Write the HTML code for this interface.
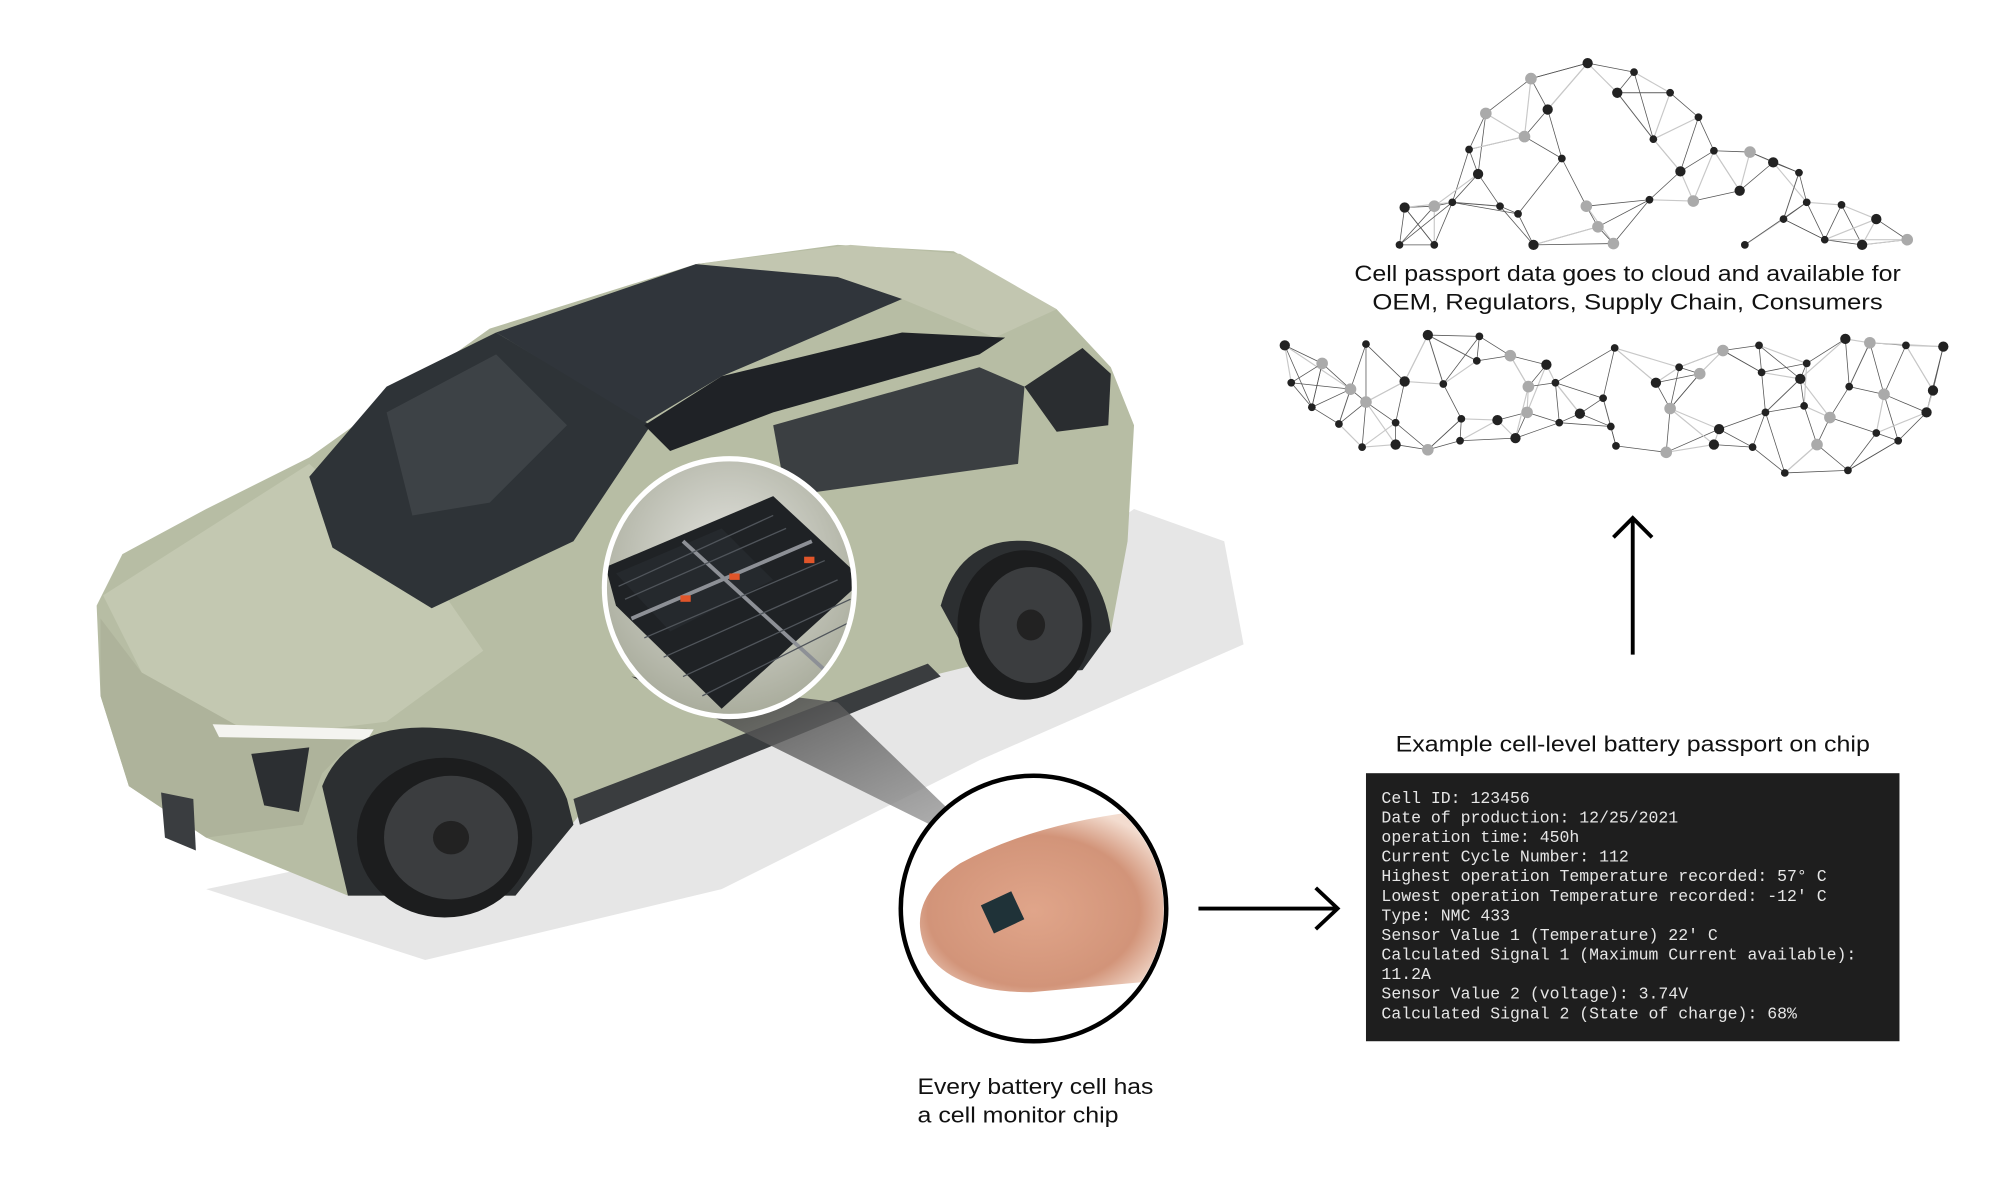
<!DOCTYPE html>
<html><head><meta charset="utf-8">
<style>
html,body{margin:0;padding:0;background:#fff;}
svg{display:block;}
</style></head>
<body>
<svg id="s" width="2000" height="1200" viewBox="0 0 1552 931.2" preserveAspectRatio="none" xmlns="http://www.w3.org/2000/svg">
<defs>
<linearGradient id="cone" x1="0" y1="0" x2="1" y2="1">
<stop offset="0" stop-color="#2a2a2a" stop-opacity="0.85"/>
<stop offset="1" stop-color="#9a9a9a" stop-opacity="0.8"/>
</linearGradient>
<radialGradient id="bat" cx="0.5" cy="0.4" r="0.6">
<stop offset="0" stop-color="#e4e4e0"/>
<stop offset="1" stop-color="#a9ac9c"/>
</radialGradient>
<radialGradient id="finger" cx="0.45" cy="0.55" r="0.6">
<stop offset="0" stop-color="#e0a58a"/>
<stop offset="0.7" stop-color="#d29479"/>
<stop offset="1" stop-color="#f3dccf"/>
</radialGradient>
<clipPath id="cc"><ellipse cx="566" cy="456" rx="95" ry="98"/></clipPath>
<clipPath id="fc"><ellipse cx="802" cy="705" rx="101" ry="101"/></clipPath>
</defs>
<rect width="1552" height="931.2" fill="#fff"/>

<!-- shadow -->
<polygon points="160,690 330,745 560,690 760,590 965,500 950,420 880,395 700,520 400,640" fill="#e6e6e6"/>

<!-- car body -->
<polygon points="75,470 95,430 160,395 240,355 380,255 540,205 650,190 740,195 820,240 862,285 880,330 875,420 862,490 720,525 450,632 400,695 270,695 160,650 100,610 78,540" fill="#b7bda4"/>
<!-- hood lighter -->
<polygon points="80,462 240,360 330,440 375,505 300,560 200,572 110,522" fill="#c3c8b1"/>
<!-- front face -->
<polygon points="78,480 110,522 200,572 285,565 250,600 235,640 160,650 100,610 78,540" fill="#aeb39b"/>
<polygon points="165,562 290,566 285,574 170,572" fill="#f4f4f0"/>
<polygon points="195,585 240,580 232,630 205,625" fill="#2c2f32"/>
<polygon points="125,615 150,620 152,660 128,650" fill="#3a3d40"/>
<!-- windshield -->
<polygon points="240,370 300,300 385,258 505,330 445,420 335,472 258,425" fill="#2e3337"/>
<polygon points="300,320 385,275 440,330 380,390 320,400" fill="#474c50" opacity="0.6"/>
<!-- roof -->
<polygon points="385,258 540,205 660,193 700,232 560,292 500,328" fill="#30353b"/>
<polygon points="540,205 660,190 745,197 820,240 772,262 700,232 650,215" fill="#c2c6b0"/>
<polygon points="500,330 560,292 700,258 780,262 760,275 600,320 520,350" fill="#1f2226"/>
<!-- side windows -->
<polygon points="600,330 760,285 795,300 790,360 610,385" fill="#3b3f42"/>
<polygon points="795,300 840,270 862,290 860,330 820,335" fill="#2a2d30"/>
<!-- lower cladding -->
<path d="M250,610 Q270,560 340,565 Q420,570 440,620 L445,640 L400,695 L270,695 Z" fill="#2c2f31"/>
<path d="M730,470 Q745,415 800,420 Q855,430 862,490 L840,520 L760,525 Z" fill="#2c2f31"/>
<polygon points="445,620 720,515 730,525 450,640" fill="#3a3d3f"/>
<!-- wheels -->
<ellipse cx="345" cy="650" rx="68" ry="62" fill="#1c1d1e"/>
<ellipse cx="350" cy="650" rx="52" ry="48" fill="#3b3d3f"/>
<ellipse cx="350" cy="650" rx="14" ry="13" fill="#222"/>
<ellipse cx="795" cy="485" rx="52" ry="58" fill="#1c1d1e"/>
<ellipse cx="800" cy="485" rx="40" ry="45" fill="#3b3d3f"/>
<ellipse cx="800" cy="485" rx="11" ry="12" fill="#222"/>

<!-- cone -->
<polygon points="490,525 650,545 736,628 722,640" fill="url(#cone)"/>

<!-- battery circle -->
<ellipse cx="566" cy="456" rx="97" ry="100" fill="url(#bat)"/>
<g clip-path="url(#cc)">
<polygon points="470,440 600,385 670,450 560,550 478,470" fill="#1f2225"/>
<polygon points="478,445 560,410 600,450 520,490" fill="#25292d"/>
<line x1="530" y1="420" x2="640" y2="520" stroke="#8d9096" stroke-width="3"/>
<line x1="490" y1="480" x2="630" y2="420" stroke="#8d9096" stroke-width="3"/>
<g stroke="#50555b" stroke-width="1">
<line x1="480" y1="455" x2="600" y2="400"/><line x1="485" y1="465" x2="610" y2="410"/>
<line x1="500" y1="495" x2="640" y2="435"/><line x1="515" y1="510" x2="650" y2="450"/>
<line x1="530" y1="525" x2="660" y2="465"/><line x1="545" y1="540" x2="665" y2="480"/>
</g>
<rect x="528" y="462" width="8" height="5" fill="#e0552a"/>
<rect x="566" y="445" width="8" height="5" fill="#e0552a"/>
<rect x="624" y="432" width="8" height="5" fill="#e0552a"/>
</g>
<ellipse cx="566" cy="456" rx="97" ry="100" fill="none" stroke="#fff" stroke-width="4"/>

<!-- chip circle -->
<g clip-path="url(#fc)">
<rect x="700" y="600" width="210" height="210" fill="#fff"/>
<path d="M720,740 Q700,700 745,670 Q800,640 880,630 L910,640 L910,760 L800,770 Q740,770 720,740 Z" fill="url(#finger)"/>
<g transform="rotate(-25 778 708)"><rect x="765" y="696" width="26" height="24" fill="#1f3238"/></g>
</g>
<ellipse cx="802" cy="705" rx="103" ry="103" fill="none" stroke="#000" stroke-width="3.5"/>

<!-- arrows -->
<line x1="930" y1="705" x2="1036" y2="705" stroke="#000" stroke-width="3"/>
<polyline points="1021,689 1038,705 1021,721" fill="none" stroke="#000" stroke-width="3"/>
<line x1="1267" y1="508" x2="1267" y2="403" stroke="#000" stroke-width="3"/>
<polyline points="1252,417 1267,402 1282,417" fill="none" stroke="#000" stroke-width="3"/>

<!-- network -->
<g id="net"></g>

<!-- texts -->
<g font-family="Liberation Sans, sans-serif" fill="#111" font-size="17">
<text x="1263" y="218" text-anchor="middle" textLength="424" lengthAdjust="spacingAndGlyphs">Cell passport data goes to cloud and available for</text>
<text x="1263" y="240" text-anchor="middle" textLength="396" lengthAdjust="spacingAndGlyphs">OEM, Regulators, Supply Chain, Consumers</text>
<text x="1267" y="583" text-anchor="middle" textLength="368" lengthAdjust="spacingAndGlyphs">Example cell-level battery passport on chip</text>
<text x="712" y="849" textLength="183" lengthAdjust="spacingAndGlyphs">Every battery cell has</text>
<text x="712" y="871" textLength="156" lengthAdjust="spacingAndGlyphs">a cell monitor chip</text>
</g>

<rect x="1060" y="600" width="414" height="208" fill="#1e1e1e"/>
<g font-family="Liberation Mono, monospace" fill="#e6e6e6" font-size="12.8">
<text x="1072" y="623">Cell ID: 123456</text>
<text x="1072" y="638.2">Date of production: 12/25/2021</text>
<text x="1072" y="653.4">operation time: 450h</text>
<text x="1072" y="668.6">Current Cycle Number: 112</text>
<text x="1072" y="683.8">Highest operation Temperature recorded: 57° C</text>
<text x="1072" y="699">Lowest operation Temperature recorded: -12' C</text>
<text x="1072" y="714.2">Type: NMC 433</text>
<text x="1072" y="729.4">Sensor Value 1 (Temperature) 22' C</text>
<text x="1072" y="744.6">Calculated Signal 1 (Maximum Current available):</text>
<text x="1072" y="759.8">11.2A</text>
<text x="1072" y="775">Sensor Value 2 (voltage): 3.74V</text>
<text x="1072" y="790.2">Calculated Signal 2 (State of charge): 68%</text>
</g>
</svg>
<script>
(function(){
var NS="http://www.w3.org/2000/svg",g=document.getElementById("net");
var top=[[1232,49],[1188,61],[1268,56],[1255,72],[1296,72],[1153,88],[1201,85],[1318,91],[1140,116],[1183,106],[1283,108],[1330,117],[1376,126],[1358,118],[1212,123],[1147,135],[1164,160],[1231,160],[1304,133],[1396,134],[1280,155],[1314,156],[1402,157],[1429,159],[1456,170],[1113,160],[1127,157],[1090,161],[1178,166],[1240,176],[1350,148],[1384,170],[1416,186],[1480,186],[1086,190],[1113,190],[1190,190],[1252,189],[1354,190],[1445,190]];
var bot=[[997,268],[1026,282],[1060,267],[1108,260],[1148,261],[1172,276],[1200,283],[1253,270],[1303,285],[1337,272],[1365,268],[1402,282],[1432,263],[1451,266],[1479,268],[1508,269],[1002,297],[1048,302],[1090,296],[1120,298],[1146,280],[1186,300],[1207,297],[1244,309],[1285,297],[1319,290],[1367,289],[1397,294],[1435,300],[1462,306],[1500,303],[1018,316],[1039,329],[1060,312],[1083,328],[1134,325],[1162,326],[1185,320],[1210,328],[1226,321],[1250,331],[1296,317],[1334,333],[1370,320],[1400,315],[1420,324],[1473,342],[1057,347],[1083,345],[1108,349],[1133,342],[1176,340],[1254,346],[1293,351],[1330,345],[1360,347],[1385,367],[1410,345],[1434,365],[1456,336],[1495,320]];
function draw(p){
 for(var i=0;i<p.length;i++){
  var d=[];for(var j=0;j<p.length;j++){if(j!=i)d.push([Math.hypot(p[i][0]-p[j][0],p[i][1]-p[j][1]),j]);}
  d.sort(function(a,b){return a[0]-b[0]});
  for(var k=0;k<4;k++){var j=d[k][1];if(j<i&&k<3)continue;
   var l=document.createElementNS(NS,"line");l.setAttribute("x1",p[i][0]);l.setAttribute("y1",p[i][1]);l.setAttribute("x2",p[j][0]);l.setAttribute("y2",p[j][1]);
   l.setAttribute("stroke",(i+k)%3==0?"#c8c8c8":"#555");l.setAttribute("stroke-width",(i+k)%3==0?"0.9":"0.6");g.appendChild(l);}
 }
 for(var i=0;i<p.length;i++){var c=document.createElementNS(NS,"circle");c.setAttribute("cx",p[i][0]);c.setAttribute("cy",p[i][1]);
  var gray=i%4==1;c.setAttribute("r",gray?4.5:(i%3==0?4:3));c.setAttribute("fill",gray?"#aaa":"#222");g.appendChild(c);}
}
draw(top);draw(bot);
})();
</script>
</body></html>
